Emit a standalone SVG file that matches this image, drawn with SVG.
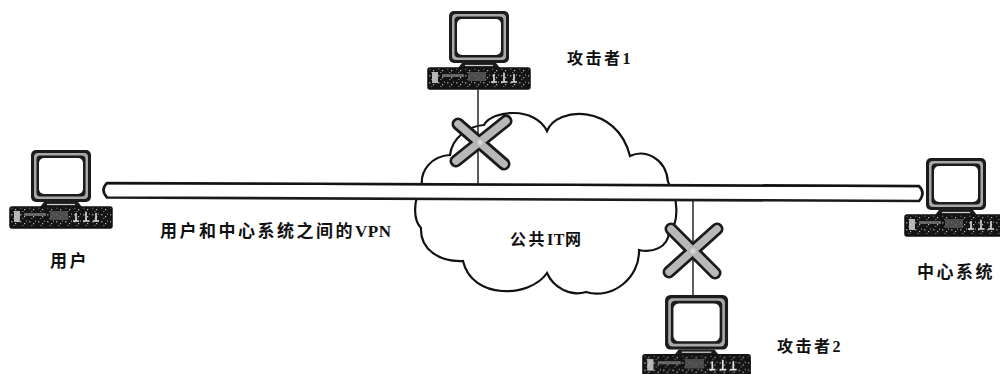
<svg xmlns="http://www.w3.org/2000/svg" width="1000" height="374" viewBox="0 0 1000 374">
  <style>
    .lbl { font-family: "Liberation Serif", "Noto Sans CJK SC", serif; font-weight: bold; fill: #111; letter-spacing: 2.5px; }
    .lat { letter-spacing: 0.5px; }
    .cloud { fill: #fff; stroke: #111; stroke-width: 2.2; }
    .tap { stroke: #333; stroke-width: 1.6; fill: none; }
    .xdark { stroke: #1a1a1a; stroke-width: 13; stroke-linecap: round; fill: none; }
    .xlight { stroke: #b8b8b8; stroke-width: 7.5; stroke-linecap: round; fill: none; }
    .pipe { fill: #fff; stroke: #1a1a1a; stroke-width: 2.6; }
  </style>
  <defs>
    <!-- speckled texture used on keyboards -->
    <pattern id="speckle" width="9" height="7" patternUnits="userSpaceOnUse">
      <rect width="9" height="7" fill="#141414"/>
      <rect x="1" y="1" width="1.5" height="1.5" fill="#8a8a8a"/>
      <rect x="5" y="3" width="1.2" height="1.2" fill="#bdbdbd"/>
      <rect x="3" y="5" width="1.5" height="1" fill="#6d6d6d"/>
      <rect x="7" y="0.5" width="1" height="1.2" fill="#9a9a9a"/>
    </pattern>
    <radialGradient id="xcore" cx="0.5" cy="0.5" r="0.5">
      <stop offset="0" stop-color="#e6e6e6"/>
      <stop offset="1" stop-color="#a8a8a8"/>
    </radialGradient>
    <!-- workstation: monitor on stand over keyboard; local size 102 x 78 -->
    <symbol id="pc" overflow="visible">
      <rect x="21" y="0" width="60" height="52" rx="5" fill="#1c1c1c"/>
      <rect x="24" y="3" width="54" height="46" rx="4" fill="#a9a9a9"/>
      <rect x="26.5" y="5.5" width="49" height="41" rx="4" fill="#1c1c1c"/>
      <rect x="29" y="8" width="44" height="36" rx="5" fill="#fff"/>
      <path d="M34,52 L68,52 L72,57 L30,57 Z" fill="#1c1c1c"/>
      <line x1="37" y1="54.5" x2="65" y2="54.5" stroke="#d0d0d0" stroke-width="1.2"/>
      <rect x="0" y="57" width="102" height="21" rx="2" fill="url(#speckle)" stroke="#111" stroke-width="1.5"/>
      <rect x="4" y="61" width="6" height="11" fill="#dcdcdc" opacity="0.8"/>
      <rect x="14" y="63" width="22" height="3" fill="#777" opacity="0.8"/>
      <rect x="40" y="61" width="18" height="9" fill="#5a5a5a" opacity="0.8"/>
      <path d="M66,63 v8 M63,71 h6 M76,62 v9 M73,71 h6 M86,63 v8 M83,71 h6" stroke="#e0e0e0" stroke-width="1.6" fill="none"/>
    </symbol>
  </defs>

  <!-- public network cloud -->
  <g id="cloud">
    <path class="cloud" d="M422,186 C420,170 432,156 450,155 C452,138 468,126 484,125 C492,110 535,106 547,131 C557,106 617,104 630,156 C645,149 666,158 668,182 C679,198 679,224 669,232 C668,248 652,253 639,250 C640,278 612,300 586,292 C570,297 553,287 547,273 C530,298 472,300 463,261 C440,262 420,250 421,228 C413,220 413,200 422,186 Z"/>
    <text class="lbl" x="510" y="245" font-size="16">公共<tspan class="lat">IT</tspan>网</text>
  </g>

  <!-- connectors: VPN tunnel, tap lines and blocked-attack crosses -->
  <g id="connectors">
    <line class="tap" x1="478" y1="90" x2="478" y2="186"/>
    <line class="tap" x1="693" y1="200" x2="693" y2="297"/>
    <path class="pipe" d="M107,183 L919,186 Q926,193 919,201 L107,197.5 Q100,190 107,183 Z"/>
    <line x1="107" y1="183.5" x2="919" y2="186.5" stroke="#111" stroke-width="1.6"/>
    <g id="block1">
      <line class="xdark" x1="458" y1="124" x2="504" y2="164"/>
      <line class="xdark" x1="506" y1="121" x2="456" y2="161"/>
      <line class="xlight" x1="458" y1="124" x2="504" y2="164"/>
      <line class="xlight" x1="506" y1="121" x2="456" y2="161"/>
      <circle cx="480" cy="142.5" r="5" fill="url(#xcore)"/>
    </g>
    <g id="block2">
      <line class="xdark" x1="671" y1="229" x2="715" y2="273"/>
      <line class="xdark" x1="717" y1="229" x2="669" y2="272"/>
      <line class="xlight" x1="671" y1="229" x2="715" y2="273"/>
      <line class="xlight" x1="717" y1="229" x2="669" y2="272"/>
      <circle cx="693" cy="251" r="5" fill="url(#xcore)"/>
    </g>
    <text class="lbl" x="160" y="237" font-size="17">用户和中心系统之间的<tspan class="lat">VPN</tspan></text>
  </g>

  <g id="user">
    <use href="#pc" x="10" y="150"/>
    <text class="lbl" x="50" y="267" font-size="17">用户</text>
  </g>

  <g id="attacker1">
    <use href="#pc" x="428" y="11"/>
    <text class="lbl" x="567" y="64" font-size="16">攻击者1</text>
  </g>

  <g id="attacker2">
    <use href="#pc" transform="translate(643,295) scale(1.05)"/>
    <text class="lbl" x="777" y="352" font-size="16">攻击者2</text>
  </g>

  <g id="center">
    <use href="#pc" x="905" y="158"/>
    <text class="lbl" x="917" y="278" font-size="17">中心系统</text>
  </g>
</svg>
